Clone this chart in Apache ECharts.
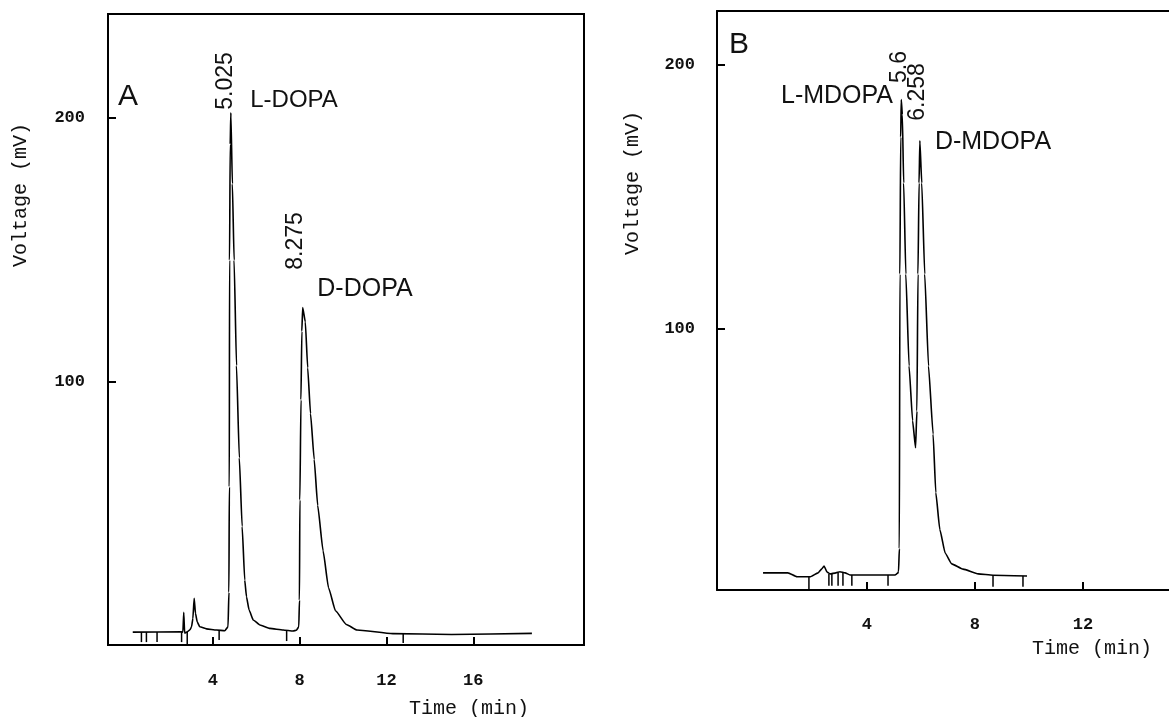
<!DOCTYPE html>
<html>
<head>
<meta charset="utf-8">
<title>DOPA / MDOPA chromatograms</title>
<script src="https://cdn.jsdelivr.net/npm/echarts/dist/echarts.min.js"></script>
<style>
  html, body { margin: 0; padding: 0; background: #fff; }
  #chart { width: 1169px; height: 717px; }
</style>
</head>
<body>
<div id="chart"></div>
<script>
// panel A: L-DOPA / D-DOPA trace (time in min, voltage in mV)
var timeA = [0.31, 2.55, 2.62, 2.66, 2.70, 2.82, 2.95, 3.02, 3.08, 3.14, 3.20, 3.28, 3.40, 3.71, 4.17, 4.55,
             4.70, 4.74, 4.76, 4.77, 4.80, 4.83, 4.90, 4.98, 5.09, 5.22, 5.35, 5.47, 5.55, 5.67, 5.86, 6.17,
             6.63, 7.24, 7.70, 7.85, 7.96, 7.99, 8.01, 8.06, 8.10, 8.14, 8.26, 8.37, 8.50, 8.67, 8.83, 9.08,
             9.33, 9.65, 10.15, 10.64, 12.29, 15.0, 18.70];
var voltA = [4.9, 5.0, 4.9, 12.4, 4.5, 5.0, 5.8, 6.9, 10, 17.7, 12, 8.8, 6.9, 6.1, 5.7, 5.4,
             6.9, 20, 60, 146, 190, 201.9, 175, 146, 106, 71, 45, 24.6, 18.3, 13.3, 9.5, 7.6,
             6.3, 5.7, 5.3, 5.6, 6.9, 17, 55, 93, 119, 128, 122.6, 105.2, 87.8, 70.4, 53, 35.7,
             21.7, 13, 7.8, 5.7, 4.3, 4.0, 4.4];
// integrator event marks under the baseline: time, top, bottom
var markTimeA = [0.71, 0.94, 1.43, 2.56, 2.82, 4.29, 7.40, 12.77];
var markTopA = [4.9, 4.9, 4.9, 4.9, 4.9, 5.7, 5.3, 4.5];
var markBotA = [1.1, 1.1, 1.1, 1.1, 0, 1.9, 1.5, 0.8];

// panel B: L-MDOPA / D-MDOPA trace
var timeB = [0.15, 1.07, 1.41, 1.89, 2.19, 2.33, 2.41, 2.52, 2.63, 2.85, 3.00, 3.19, 3.37, 5.04, 5.14,
             5.17, 5.20, 5.22, 5.25, 5.27, 5.31, 5.36, 5.44, 5.56, 5.69, 5.80, 5.85, 5.89, 5.93, 5.96,
             6.03, 6.14, 6.28, 6.45, 6.55, 6.70, 6.90, 7.14, 7.56, 8.12, 8.67, 9.93];
var voltB = [7.6, 7.6, 6.1, 6.1, 7.6, 9.1, 10.2, 7.9, 7.2, 7.6, 8.0, 7.6, 6.8, 6.8, 7.5,
             8.1, 16.8, 120.8, 172.7, 186.9, 181.3, 155.3, 120.8, 86, 65.3, 55, 68.9, 120.8, 155.3, 171.3,
             155.3, 120.8, 86, 60.2, 38, 24, 15, 11, 9, 7.2, 6.7, 6.4];
var markTimeB = [1.85, 2.59, 2.70, 2.93, 3.11, 3.44, 4.78, 8.67, 9.78];
var markTopB = [6.1, 7.2, 7.2, 7.6, 7.6, 6.8, 6.8, 6.7, 6.4];
var markBotB = [1.1, 2.7, 2.7, 2.7, 2.7, 2.7, 2.7, 2.3, 2.3];

var ticksTimeA = [4, 8, 12, 16];
var ticksTimeB = [4, 8, 12];
var ticksVolt = [100, 200];

function pairs(xs, ys) {
    var out = [];
    for (var i = 0; i < xs.length; i++) out.push([xs[i], ys[i]]);
    return out;
}
function triples(xs, a, b) {
    var out = [];
    for (var i = 0; i < xs.length; i++) out.push([xs[i], a[i], b[i]]);
    return out;
}

function renderMark(params, api) {
    var p1 = api.coord([api.value(0), api.value(1)]);
    var p2 = api.coord([api.value(0), api.value(2)]);
    return {
        type: 'line',
        shape: { x1: p1[0], y1: p1[1], x2: p2[0], y2: p2[1] },
        style: { stroke: '#000', lineWidth: 1.5 }
    };
}

var monoLabel = { fontFamily: 'Liberation Mono', fontSize: 17, color: '#111', fontWeight: 'bold' };
var frameLine = { onZero: false, lineStyle: { color: '#000', width: 2 } };

function xAxisFor(idx, min, max, ticks, margin) {
    return {
        type: 'value', gridIndex: idx, min: min, max: max,
        splitLine: { show: false },
        axisLine: frameLine,
        axisTick: { inside: true, length: 8, customValues: ticks, lineStyle: { color: '#000', width: 2 } },
        axisLabel: Object.assign({ customValues: ticks, margin: margin }, monoLabel)
    };
}
function yAxisFor(idx, min, max, margin) {
    return {
        type: 'value', gridIndex: idx, min: min, max: max,
        splitLine: { show: false },
        axisLine: frameLine,
        axisTick: { inside: true, length: 8, customValues: ticksVolt, lineStyle: { color: '#000', width: 2 } },
        axisLabel: Object.assign({ customValues: ticksVolt, margin: margin }, monoLabel)
    };
}

function txt(x, y, text, size, family, rot) {
    return {
        type: 'text', x: x, y: y, rotation: rot || 0,
        style: {
            text: text, fontSize: size, fontFamily: family, fill: '#111',
            align: 'center', verticalAlign: 'middle'
        }
    };
}

var myChart = echarts.init(document.getElementById('chart'));

var option = {
    backgroundColor: '#fff',
    animation: false,
    grid: [
        { left: 108, top: 14, width: 476, height: 631, show: true, borderColor: '#000', borderWidth: 2 },
        { left: 717, top: 11, width: 452, height: 579 }
    ],
    xAxis: [
        xAxisFor(0, -0.83, 21.1, ticksTimeA, 27),
        xAxisFor(1, -1.556, 15.19, ticksTimeB, 26),
        // top frame line of panel B (its right edge is cut off by the page)
        {
            type: 'value', gridIndex: 1, position: 'top', min: -1.556, max: 15.19,
            splitLine: { show: false }, axisTick: { show: false }, axisLabel: { show: false },
            axisLine: frameLine
        }
    ],
    yAxis: [
        yAxisFor(0, 0, 239.4, 23),
        yAxisFor(1, 1.1, 220.5, 22)
    ],
    series: [
        {
            type: 'line', xAxisIndex: 0, yAxisIndex: 0,
            data: pairs(timeA, voltA), showSymbol: false, smooth: 0.15, smoothMonotone: 'x',
            lineStyle: { color: '#000', width: 1.6 }
        },
        {
            type: 'custom', xAxisIndex: 0, yAxisIndex: 0,
            data: triples(markTimeA, markTopA, markBotA), renderItem: renderMark
        },
        {
            type: 'line', xAxisIndex: 1, yAxisIndex: 1,
            data: pairs(timeB, voltB), showSymbol: false, smooth: 0.15, smoothMonotone: 'x',
            lineStyle: { color: '#000', width: 1.6 }
        },
        {
            type: 'custom', xAxisIndex: 1, yAxisIndex: 1,
            data: triples(markTimeB, markTopB, markBotB), renderItem: renderMark
        }
    ],
    graphic: [
        // panel A texts
        txt(128, 97, 'A', 30, 'Liberation Sans'),
        txt(294, 100, 'L-DOPA', 24, 'Liberation Sans'),
        txt(365, 289, 'D-DOPA', 25, 'Liberation Sans'),
        txt(226, 81, '5.025', 23, 'Liberation Sans', Math.PI / 2),
        txt(296, 241, '8.275', 23, 'Liberation Sans', Math.PI / 2),
        txt(21, 195, 'Voltage (mV)', 20, 'Liberation Mono', Math.PI / 2),
        txt(469, 709, 'Time (min)', 20, 'Liberation Mono'),
        // panel B texts
        txt(739, 45, 'B', 30, 'Liberation Sans'),
        txt(837, 96, 'L-MDOPA', 25, 'Liberation Sans'),
        txt(993, 142, 'D-MDOPA', 25, 'Liberation Sans'),
        txt(900, 67, '5.6', 23, 'Liberation Sans', Math.PI / 2),
        txt(918, 92, '6.258', 23, 'Liberation Sans', Math.PI / 2),
        txt(633, 183, 'Voltage (mV)', 20, 'Liberation Mono', Math.PI / 2),
        txt(1092, 649, 'Time (min)', 20, 'Liberation Mono')
    ]
};

myChart.setOption(option);
</script>
</body>
</html>
